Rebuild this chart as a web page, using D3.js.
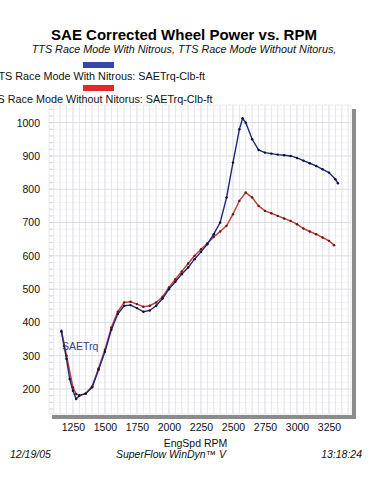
<!DOCTYPE html>
<html><head><meta charset="utf-8">
<script src="https://cdn.jsdelivr.net/npm/d3@7"></script>
<style>
html,body{margin:0;padding:0;background:#fff;}
svg{display:block;font-family:"Liberation Sans",Arial,sans-serif;}
</style></head>
<body><svg id="c" width="371" height="495"></svg>
<script>
const title = "SAE Corrected Wheel Power vs. RPM";
const subtitle = "TTS Race Mode With Nitrous, TTS Race Mode Without Nitorus,";
const seriesNames = ["TTS Race Mode With Nitrous: SAETrq-Clb-ft", "TTS Race Mode Without Nitorus: SAETrq-Clb-ft"];
const xTicks = [1250,1500,1750,2000,2250,2500,2750,3000,3250];
const yTicks = [200,300,400,500,600,700,800,900,1000];

const rpmNitrous = [1160,1180,1200,1225,1250,1275,1300,1350,1400,1450,1500,1550,1600,1650,1700,1750,1800,1850,1900,1950,2000,2050,2100,2150,2200,2250,2300,2350,2400,2450,2500,2550,2575,2600,2650,2700,2750,2800,2850,2900,2950,3000,3050,3100,3150,3200,3250,3300,3320];
const trqNitrous = [372,330,290,230,195,170,180,186,205,258,312,378,425,450,452,443,432,436,450,472,500,522,545,565,590,612,635,665,700,775,880,980,1013,1000,950,918,910,907,904,902,900,894,886,878,870,860,850,830,818];

const rpmNoNitrous = [1160,1200,1250,1275,1300,1350,1400,1450,1500,1550,1600,1650,1700,1750,1800,1850,1900,1950,2000,2050,2100,2150,2200,2250,2300,2350,2400,2450,2500,2550,2600,2650,2700,2750,2800,2850,2900,2950,3000,3050,3100,3150,3200,3250,3290];
const trqNoNitrous = [375,300,205,185,181,187,208,262,318,385,432,460,462,455,447,450,460,477,505,530,553,577,600,620,638,657,673,690,725,765,790,775,750,735,728,720,712,705,695,682,673,665,655,645,632];

const svg = d3.select("#c");
const L=49, R=351, T=105, B=414;
const x = d3.scaleLinear().domain([1063,3422]).range([L,R]);
const y = d3.scaleLinear().domain([125,1053]).range([B,T]);

// shadow
svg.append("rect").attr("x",R+1).attr("y",T+4).attr("width",4).attr("height",B-T+1).attr("fill","#8c8c8c");
svg.append("rect").attr("x",L+3).attr("y",B+1).attr("width",R-L+2).attr("height",4).attr("fill","#8c8c8c");
svg.append("rect").attr("x",L).attr("y",T).attr("width",R-L).attr("height",B-T).attr("fill","#fff").attr("stroke","#e6e6e6").attr("stroke-width",0.8);

const g = svg.append("g");
d3.range(140,1053,20).forEach(v=>{ if(v%100!==0) g.append("line").attr("x1",L).attr("x2",R).attr("y1",y(v)).attr("y2",y(v)).attr("stroke","#f1f1f4").attr("stroke-width",0.8);});
d3.range(1100,3422,50).forEach(v=>{ g.append("line").attr("x1",x(v)).attr("x2",x(v)).attr("y1",T).attr("y2",B).attr("stroke", v%250===0?"#d8d8e0":"#e2e2ea").attr("stroke-width",0.9);});
yTicks.forEach(v=>{ g.append("line").attr("x1",L).attr("x2",R).attr("y1",y(v)).attr("y2",y(v)).attr("stroke","#d8d8e0").attr("stroke-width",0.9);});
d3.range(140,1053,20).forEach(v=>{ g.append("line").attr("x1",L).attr("x2",L+4).attr("y1",y(v)).attr("y2",y(v)).attr("stroke","#d0d0d6").attr("stroke-width",0.8);});

const yAxis = d3.axisLeft(y).tickValues(yTicks).tickSize(0).tickPadding(0).tickFormat(d3.format("d"));
const ya = svg.append("g").attr("transform",`translate(${L-9},0)`).call(yAxis);
ya.select(".domain").remove();
ya.selectAll("text").attr("font-size","10.5px").attr("fill","#111").attr("font-family","Liberation Sans,Arial,sans-serif");
const xAxis = d3.axisBottom(x).tickValues(xTicks).tickSize(0).tickPadding(0).tickFormat(d3.format("d"));
const xa = svg.append("g").attr("transform",`translate(0,${B+10})`).call(xAxis);
xa.select(".domain").remove();
xa.selectAll("text").attr("font-size","10.5px").attr("fill","#111").attr("font-family","Liberation Sans,Arial,sans-serif");

const line = d3.line().x(d=>x(d[0])).y(d=>y(d[1]));
const dRed = rpmNoNitrous.map((r,i)=>[r,trqNoNitrous[i]]);
const dBlue = rpmNitrous.map((r,i)=>[r,trqNitrous[i]]);
svg.append("path").datum(dRed).attr("d",line).attr("fill","none").attr("stroke","#c8403a").attr("stroke-width",1.5);
svg.append("path").datum(dBlue).attr("d",line).attr("fill","none").attr("stroke","#1e2a78").attr("stroke-width",1.4);
svg.selectAll(".mr").data(dRed).enter().append("circle").attr("cx",d=>x(d[0])).attr("cy",d=>y(d[1])).attr("r",1.2).attr("fill","#5a1a1a");
svg.selectAll(".mb").data(dBlue).enter().append("circle").attr("cx",d=>x(d[0])).attr("cy",d=>y(d[1])).attr("r",1.2).attr("fill","#0a0f30");

svg.append("text").attr("x",62).attr("y",350).attr("font-size","10.5px").attr("fill","#3a3f80").text("SAETrq");

svg.append("text").attr("x",184).attr("y",40).attr("text-anchor","middle").attr("font-size","15px").attr("font-weight","bold").attr("fill","#000").text(title);
svg.append("text").attr("x",184).attr("y",53).attr("text-anchor","middle").attr("font-size","10.8px").attr("font-style","italic").attr("fill","#111").text(subtitle);

svg.append("rect").attr("x",83).attr("y",62).attr("width",31).attr("height",6).attr("fill","#3747a6");
svg.append("text").attr("x",98.5).attr("y",80).attr("text-anchor","middle").attr("font-size","10.8px").attr("fill","#111").text(seriesNames[0]);
svg.append("rect").attr("x",83).attr("y",85).attr("width",31).attr("height",6).attr("fill","#e3282a");
svg.append("text").attr("x",98.5).attr("y",103).attr("text-anchor","middle").attr("font-size","10.8px").attr("fill","#111").text(seriesNames[1]);

svg.append("text").attr("x",195.5).attr("y",447).attr("text-anchor","middle").attr("font-size","10.5px").attr("fill","#111").text("EngSpd  RPM");
svg.append("text").attr("x",10).attr("y",458).attr("font-size","10.5px").attr("font-style","italic").attr("fill","#111").text("12/19/05");
svg.append("text").attr("x",171).attr("y",458).attr("text-anchor","middle").attr("font-size","10.5px").attr("font-style","italic").attr("fill","#111").text("SuperFlow WinDyn\u2122 V");
svg.append("text").attr("x",362).attr("y",458).attr("text-anchor","end").attr("font-size","10.5px").attr("font-style","italic").attr("fill","#111").text("13:18:24");
</script></body></html>
